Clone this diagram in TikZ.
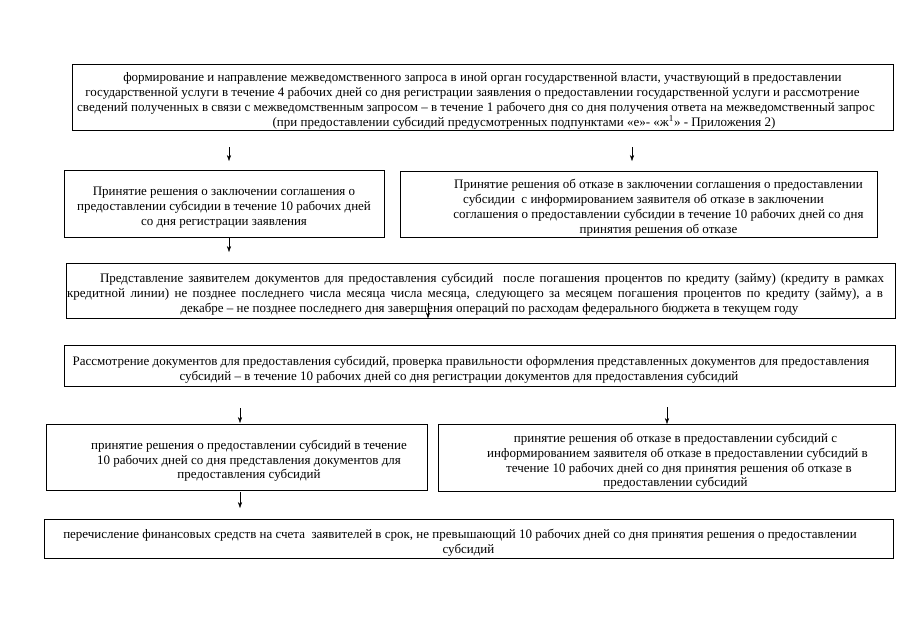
\documentclass[tikz,border=0pt]{standalone}
\usepackage{fontspec}
\setmainfont{Liberation Serif}
\usetikzlibrary{arrows.meta}

\newcommand{\lineshift}[1]{\hspace*{#1pt}}
\newcommand{\boxtop}{\rule{0pt}{17pt}}

\begin{document}
\begin{tikzpicture}[x=1pt, y=-1pt, >={Stealth[length=6pt,width=4.2pt]},
  every node/.style={font=\fontsize{13}{14.8}\selectfont},
  box/.style={draw, line width=0.7pt, align=center, inner sep=0pt}]
  \useasboundingbox (0,0) rectangle (905,640);
  % interagency request
  \node[box, minimum width=821, minimum height=66] (zapros) at (482.5,97)
    {\boxtop формирование и направление межведомственного запроса в иной орган государственной власти, участвующий в предоставлении\\
     \lineshift{-20}государственной услуги в течение 4 рабочих дней со дня регистрации заявления о предоставлении государственной услуги и рассмотрение\\
     \lineshift{-13}сведений полученных в связи с межведомственным запросом -- в течение 1 рабочего дня со дня получения ответа на межведомственный запрос\\
     \lineshift{83}(при предоставлении субсидий предусмотренных подпунктами «е»- «ж\textsuperscript{1}» - Приложения 2)};
  % agreement: yes / no
  \node[box, minimum width=320, minimum height=67] (soglYes) at (224,203.5)
    {\boxtop Принятие решения о заключении соглашения о\\
     предоставлении субсидии в течение 10 рабочих дней\\
     со дня регистрации заявления};
  \node[box, minimum width=477, minimum height=66] (soglNo) at (638.5,204)
    {\boxtop\lineshift{40}Принятие решения об отказе в заключении соглашения о предоставлении\\
     \lineshift{10}субсидии~ с информированием заявителя об отказе в заключении\\
     \lineshift{40}соглашения о предоставлении субсидии в течение 10 рабочих дней со дня\\
     \lineshift{40}принятия решения об отказе};
  % documents
  \node[box, minimum width=829, minimum height=55] (dokum) at (480.5,290.5)
    {\boxtop\lineshift{23}\makebox[784pt][s]{Представление заявителем документов для предоставления субсидий~ после погашения процентов по кредиту (займу) (кредиту в рамках}\\
     \lineshift{-11}\makebox[816pt][s]{кредитной линии) не позднее последнего числа месяца числа месяца, следующего за месяцем погашения процентов по кредиту (займу), а в}\\
     \lineshift{18}декабре -- не позднее последнего дня завершения операций по расходам федерального бюджета в текущем году};
  \node[box, minimum width=831, minimum height=41] (provrk) at (479.5,365.5)
    {\boxtop\lineshift{-17}Рассмотрение документов для предоставления субсидий, проверка правильности оформления представленных документов для предоставления\\
     \lineshift{-41}субсидий -- в течение 10 рабочих дней со дня регистрации документов для предоставления субсидий};
  % subsidy: yes / no
  \node[box, minimum width=381, minimum height=66] (subsYes) at (236.5,457)
    {\boxtop\lineshift{25}принятие решения о предоставлении субсидий в течение\\
     \lineshift{25}10 рабочих дней со дня представления документов для\\
     \lineshift{25}предоставления субсидий};
  \node[box, minimum width=457, minimum height=67] (subsNo) at (666.5,457.5)
    {\boxtop\lineshift{18}принятие решения об отказе в предоставлении субсидий с\\
     \lineshift{22}информированием заявителя об отказе в предоставлении субсидий в\\
     \lineshift{25}течение 10 рабочих дней со дня принятия решения об отказе в\\
     \lineshift{18}предоставлении субсидий};
  \node[box, minimum width=849, minimum height=39] (perech) at (468.5,538.5)
    {\boxtop\lineshift{-17}перечисление финансовых средств на счета~ заявителей в срок, не превышающий 10 рабочих дней со дня принятия решения о предоставлении\\
     субсидий};
  % arrows
  \coordinate (a1) at (229,147); \coordinate (b1) at (229,161);
  \coordinate (a2) at (632,147); \coordinate (b2) at (632,161);
  \coordinate (a3) at (229,238); \coordinate (b3) at (229,252);
  \coordinate (a4) at (428,303);
  \coordinate (a5) at (240,408); \coordinate (b5) at (240,423);
  \coordinate (a6) at (667,407); \coordinate (b6) at (667,424);
  \coordinate (a7) at (240,492); \coordinate (b7) at (240,508);
  \draw[->] (a1) -- (b1);
  \draw[->] (a2) -- (b2);
  \draw[->] (a3) -- (b3);
  \draw[->] (a4) -- (a4 |- dokum.south);
  \draw[->] (a5) -- (b5);
  \draw[->] (a6) -- (b6);
  \draw[->] (a7) -- (b7);
\end{tikzpicture}
\end{document}
